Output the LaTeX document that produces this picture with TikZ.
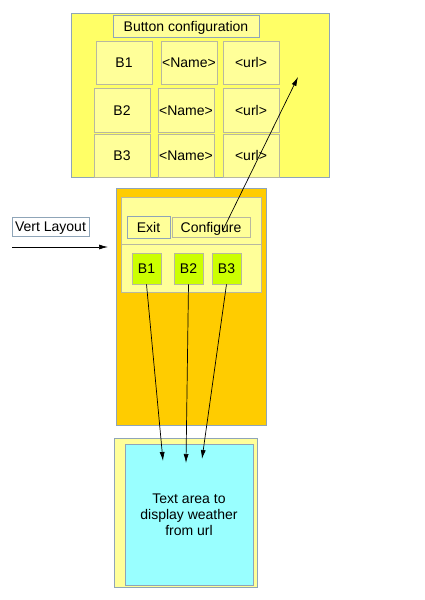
\documentclass[tikz,border=0pt]{standalone}
\usepackage{fontspec}
\setmainfont{Liberation Sans}
\usepackage{tikz}
\usetikzlibrary{arrows.meta}

\definecolor{panelyellow}{HTML}{FFFF66}
\definecolor{paleyellow}{HTML}{FFFF99}
\definecolor{phoneorange}{HTML}{FFCC00}
\definecolor{btngreen}{HTML}{CCFF00}
\definecolor{areacyan}{HTML}{99FFFF}
\definecolor{bluegray}{HTML}{8FA5B8}
\definecolor{cellgray}{HTML}{B8B8A0}

\begin{document}
\begin{tikzpicture}[x=1pt, y=-1pt, >={Latex[length=9pt,width=5pt]}, line width=0.7pt,
    box/.style={draw=bluegray, rectangle, inner sep=0pt, text height=10pt, text depth=0pt, font=\fontsize{14}{16}\selectfont},
    cell/.style={box, draw=cellgray, fill=paleyellow}]
                        \useasboundingbox (0,0) rectangle (424,600);

                        % button configuration window
                        \node[box, fill=panelyellow, minimum width=258, minimum height=164] (conf) at (200, 95) {};
                        \node[box, fill=paleyellow, minimum width=146, minimum height=22] (title) at (186, 26) {Button configuration};

                        \node[cell, minimum width=56, minimum height=43] (cB1) at (124, 62.5) {B1};
                        \node[cell, minimum width=56, minimum height=43] (cN1) at (189, 62.5) {<Name>};
                        \node[cell, minimum width=56, minimum height=43] (cU1) at (251, 62.5) {<url>};
                        \node[cell, minimum width=56, minimum height=44] (cB2) at (122, 110) {B2};
                        \node[cell, minimum width=56, minimum height=44] (cN2) at (186, 110) {<Name>};
                        \node[cell, minimum width=56, minimum height=44] (cU2) at (251, 110) {<url>};
                        \node[cell, minimum width=56, minimum height=43] (cB3) at (122, 155.5) {B3};
                        \node[cell, minimum width=56, minimum height=43] (cN3) at (186, 155.5) {<Name>};
                        \node[cell, minimum width=56, minimum height=43] (cU3) at (251, 155.5) {<url>};

                        % phone screen
                        \node[box, fill=phoneorange, minimum width=150, minimum height=237] (phone) at (191, 306.5) {};
                        \node[box, draw=cellgray, fill=paleyellow, minimum width=140, minimum height=95] (menu) at (191, 244.5) {};
                        \draw[cellgray] (menu.west |- 0,244) -- (menu.east |- 0,244);

                        \node[box, fill=paleyellow, minimum width=43, minimum height=22] (exit) at (148.5, 227) {Exit};
                        \node[box, draw=cellgray, fill=paleyellow, minimum width=78, minimum height=20] (cfg) at (211, 227) {Configure};

                        \node[box, draw=cellgray, fill=btngreen, minimum width=29, minimum height=31] (gB1) at (146.5, 268.5) {B1};
                        \node[box, draw=cellgray, fill=btngreen, minimum width=29, minimum height=31] (gB2) at (188.5, 268.5) {B2};
                        \node[box, draw=cellgray, fill=btngreen, minimum width=29, minimum height=31] (gB3) at (226.5, 268.5) {B3};

                        % layout label
                        \node[box, fill=white, minimum width=77, minimum height=19] (vert) at (50.5, 226.5) {Vert Layout};
                        \coordinate (vIn) at (12, 247);
                        \coordinate (vOut) at (108, 247);
                        \draw[->] (vIn) -- (vOut);

                        % weather text area
                        \node[box, fill=paleyellow, minimum width=143, minimum height=149] (outer) at (185.5, 512.5) {};
                        \node[box, text height=, text depth=, fill=areacyan, minimum width=128, minimum height=141, align=center] (area) at (189, 515) {Text area to\\display weather\\from url};

                        \coordinate (cfgFrom) at (223, 230);
                        \coordinate (cfgTo) at (298, 77);
                        \coordinate (aB1) at (163, 461);
                        \coordinate (aB2) at (186, 463);
                        \coordinate (aB3) at (202, 459);

                        \draw[->] (cfgFrom) -- (cfgTo);
                        \draw[->] (gB1.south) -- (aB1);
                        \draw[->] (gB2.south) -- (aB2);
                        \draw[->] (gB3.south) -- (aB3);
                    \end{tikzpicture}
\end{document}
